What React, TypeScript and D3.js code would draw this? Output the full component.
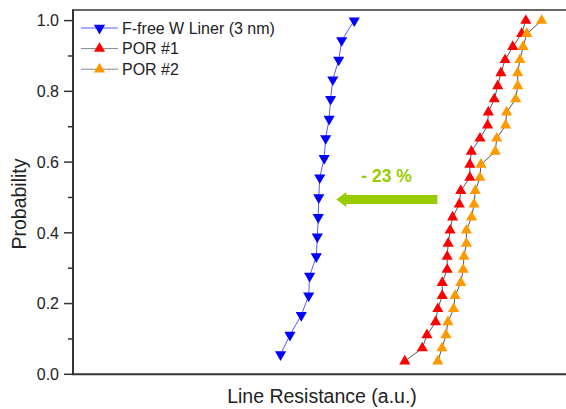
import React from 'react';
import * as d3 from 'd3';

// line resistance in arbitrary units, sorted ascending (cumulative probability plot)
const linerRes = [42.1, 44.0, 46.3, 47.8, 48.0, 49.35, 49.55, 49.75, 49.85, 50.05, 50.95, 51.25, 51.95, 52.25, 52.7, 53.9, 54.5, 57.05];
const linerProb = [0.056, 0.111, 0.167, 0.222, 0.278, 0.333, 0.389, 0.444, 0.5, 0.556, 0.611, 0.667, 0.722, 0.778, 0.833, 0.889, 0.944, 1.0];

const por1Res = [67.3, 70.85, 71.8, 73.55, 74.0, 74.9, 74.9, 75.9, 75.9, 76.1, 76.5, 77.0, 78.35, 78.65, 80.5, 80.5, 80.8, 82.55, 84.1, 84.25, 85.45, 86.15, 86.8, 87.65, 89.2, 91.0, 91.85];
const por2Res = [74.0, 74.85, 75.65, 76.05, 77.2, 77.5, 78.65, 79.15, 79.3, 79.8, 79.8, 80.85, 81.35, 81.6, 82.55, 82.75, 85.65, 85.95, 87.75, 87.95, 89.8, 90.2, 90.2, 90.65, 91.3, 92.05, 95.05];
const porProb = [0.037, 0.074, 0.111, 0.148, 0.185, 0.222, 0.259, 0.296, 0.333, 0.370, 0.407, 0.444, 0.481, 0.519, 0.556, 0.593, 0.630, 0.667, 0.704, 0.741, 0.778, 0.815, 0.852, 0.889, 0.926, 0.963, 1.0];

const yTicks = [0, 0.2, 0.4, 0.6, 0.8, 1.0];
const yMinor = [0.1, 0.3, 0.5, 0.7, 0.9];

// annotation arrow (data units)
const arrowFrom = 73.9;
const arrowTo = 53.4;
const arrowProb = 0.494;
const arrowText = '- 23 %';
const arrowTextX = 63.6;
const arrowTextProb = 0.545;

const W = 566;
const H = 409;
const FONT = '"Liberation Sans", Arial, sans-serif';

const series = [
  { name: 'F-free W Liner (3 nm)', xs: linerRes, ps: linerProb, color: '#0000ff', line: '#5a5aff', down: true },
  { name: 'POR #1', xs: por1Res, ps: porProb, color: '#ff0000', line: '#555555', down: false },
  { name: 'POR #2', xs: por2Res, ps: porProb, color: '#ff9900', line: '#555555', down: false },
];

export default function App() {
  const x = d3.scaleLinear().domain([0, 100]).range([73, W]);
  const y = d3.scaleLinear().domain([0, 1.03]).range([374.3, 10]);
  const tri = d3.symbol().type(d3.symbolTriangle).size(54)();
  const line = d3.line<[number, number]>().x(d => x(d[0])).y(d => y(d[1]));

  const ay = y(arrowProb);
  const ax0 = x(arrowFrom);
  const ax1 = x(arrowTo);
  const arrowPts = [
    [ax0, ay - 4.5], [ax1 + 10, ay - 4.5], [ax1 + 10, ay - 7.5], [ax1, ay],
    [ax1 + 10, ay + 7.5], [ax1 + 10, ay + 4.5], [ax0, ay + 4.5],
  ].map(p => p.join(',')).join(' ');

  return (
    <svg width={W} height={H} style={{ position: 'absolute', left: 0, top: 0, background: '#fff' }} fontFamily={FONT}>
      {/* frame */}
      <line x1={73} x2={W} y1={10} y2={10} stroke="#333" strokeWidth={1.5} />
      <line x1={73} x2={73} y1={9.3} y2={375} stroke="#333" strokeWidth={2} />
      <line x1={72} x2={W} y1={374.3} y2={374.3} stroke="#333" strokeWidth={2} />

      {/* y ticks */}
      {yTicks.map(t => (
        <g key={t}>
          <line x1={64} x2={73} y1={y(t)} y2={y(t)} stroke="#333" strokeWidth={1.5} />
          <text x={59} y={y(t)} dy="0.36em" textAnchor="end" fontSize={16} fill="#222">{t.toFixed(1)}</text>
        </g>
      ))}
      {yMinor.map(t => (
        <line key={t} x1={68} x2={73} y1={y(t)} y2={y(t)} stroke="#333" strokeWidth={1.5} />
      ))}

      <text transform="translate(26,204) rotate(-90)" textAnchor="middle" fontSize={19.5} fill="#222">Probability</text>
      <text x={322} y={403} textAnchor="middle" fontSize={19.5} fill="#222">Line Resistance (a.u.)</text>

      {/* data */}
      {series.map(s => {
        const pts = s.xs.map((v, i) => [v, s.ps[i]] as [number, number]);
        return (
          <g key={s.name}>
            <path d={line(pts) || ''} fill="none" stroke={s.line} strokeWidth={1} />
            {pts.map((p, i) => (
              <path key={i} d={tri} fill={s.color}
                transform={`translate(${x(p[0])},${y(p[1])})${s.down ? ' rotate(180)' : ''}`} />
            ))}
          </g>
        );
      })}

      {/* annotation */}
      <polygon points={arrowPts} fill="#99cc00" />
      <text x={x(arrowTextX)} y={y(arrowTextProb)} textAnchor="middle" fontSize={17.5} fontWeight="bold" fill="#99cc00">{arrowText}</text>

      {/* legend */}
      {series.map((s, i) => {
        const ly = 28 + i * 20.6;
        return (
          <g key={s.name}>
            <line x1={81} x2={118} y1={ly} y2={ly} stroke={s.down ? s.line : '#888'} strokeWidth={1} />
            <path d={tri} fill={s.color} transform={`translate(99.5,${ly})${s.down ? ' rotate(180)' : ''}`} />
            <text x={122} y={ly} dy="0.36em" fontSize={16} fill="#222">{s.name}</text>
          </g>
        );
      })}
    </svg>
  );
}
